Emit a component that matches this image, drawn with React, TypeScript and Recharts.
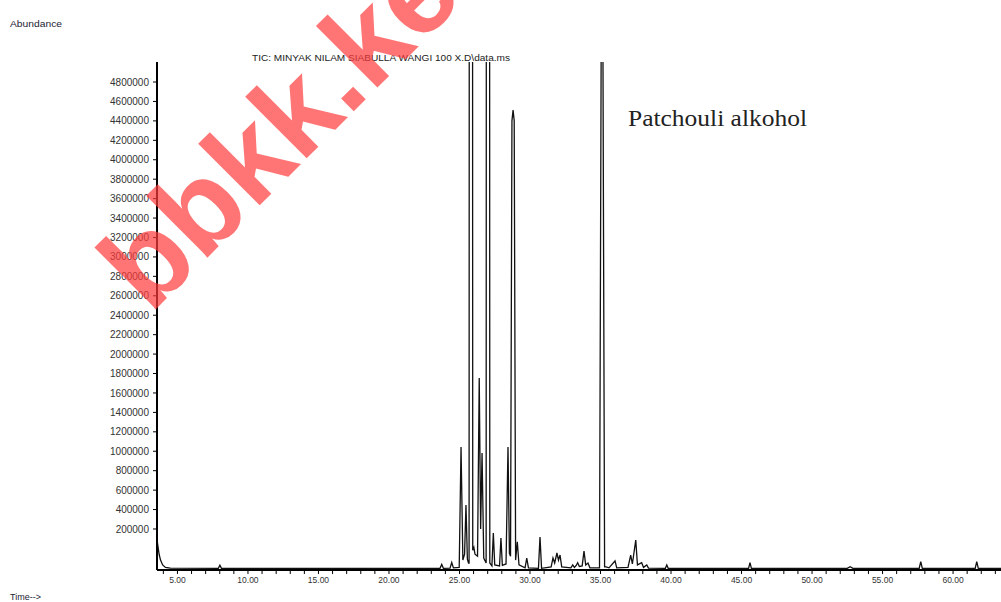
import { LineChart, Line, XAxis, YAxis } from 'recharts';

// retention time (min)
const times = [
  3.55, 3.62, 3.7, 3.8, 3.95, 4.15, 4.5,
  7.9, 8.01, 8.12,
  23.62, 23.74, 23.86, 24.33, 24.45, 24.57,
  24.98, 25.11, 25.24, 25.36, 25.46, 25.56, 25.64,
  25.68, 25.81, 25.94, 26.02, 26.1, 26.28, 26.4, 26.5, 26.6, 26.72,
  26.89, 27.02, 27.15, 27.3, 27.4, 27.5, 27.84, 27.94, 28.04,
  28.3, 28.44, 28.54, 28.62, 28.72, 28.8, 28.88, 28.98, 29.1, 29.22,
  29.65, 29.77, 29.89, 30.6, 30.71, 30.82,
  31.5, 31.63, 31.75, 31.91, 32.02, 32.13, 32.25,
  32.9, 33.03, 33.15, 33.28, 33.38, 33.5, 33.7, 33.83, 33.95, 34.11, 34.25,
  34.93, 35.11, 35.29, 35.4, 35.6, 36.03, 36.15,
  36.95, 37.14, 37.26, 37.5, 37.62, 37.92, 38.05, 38.28, 38.4,
  39.6, 39.7, 39.8, 45.5, 45.6, 45.7, 52.5, 52.7, 52.9,
  57.6, 57.71, 57.82, 61.57, 61.68, 61.79, 63.4,
];

// TIC abundance
const abundance = [
  90000, 20000, -60000, -120000, -170000, -195000, -203000,
  -205000, -172000, -205000,
  -205000, -165000, -205000, -203000, -145000, -200000,
  -195000, 1044000, -120000, -60000, 447000, -110000, -150000,
  -150000, 60000000, -20000, 10000, -60000, -80000, 1754000, 200000, 982000, -100000,
  -150000, 60000000, -150000, -180000, 159000, -170000, -180000, 107000, -175000,
  -160000, 1044000, -50000, -80000, 4400000, 4512000, 4400000, -120000, 69000, -170000,
  -200000, -100000, -200000, -205000, 118000, -205000,
  -190000, -98000, -150000, -47000, -120000, -68000, -190000,
  -200000, -170000, -195000, -175000, -147000, -185000, -180000, -26000, -170000, -150000, -200000,
  -200000, 8000000, -190000, -190000, -200000, -129000, -200000,
  -195000, -68000, -160000, 87000, -170000, -147000, -195000, -170000, -203000,
  -205000, -170000, -205000, -205000, -147000, -205000, -205000, -188000, -205000,
  -205000, -136000, -205000, -205000, -136000, -205000, -205000,
];

const yTicks = [
  200000, 400000, 600000, 800000, 1000000, 1200000, 1400000, 1600000,
  1800000, 2000000, 2200000, 2400000, 2600000, 2800000, 3000000, 3200000,
  3400000, 3600000, 3800000, 4000000, 4200000, 4400000, 4600000, 4800000,
];

const xTicks = [
  4, 5, 6, 7, 8, 9, 10, 11, 12, 13, 14, 15, 16, 17, 18, 19, 20, 21, 22, 23,
  24, 25, 26, 27, 28, 29, 30, 31, 32, 33, 34, 35, 36, 37, 38, 39, 40, 41, 42,
  43, 44, 45, 46, 47, 48, 49, 50, 51, 52, 53, 54, 55, 56, 57, 58, 59, 60, 61, 62, 63,
];

const data = times.map((t, i) => ({ t, v: abundance[i] }));

const tickFont = { fontFamily: 'Liberation Sans, Arial, sans-serif', fill: '#333' };

export default function App() {
  return (
    <div style={{ position: 'absolute', left: 0, top: 0, width: 1001, height: 602, background: '#fff', overflow: 'hidden' }}>
      <LineChart width={1001} height={602} data={data} margin={{ top: 62, right: 0, left: 0, bottom: 0 }}>
        <XAxis
          dataKey="t"
          type="number"
          domain={[3.55, 63.4]}
          allowDataOverflow
          ticks={xTicks}
          interval={0}
          tickFormatter={(t: number) => (t % 5 === 0 ? t.toFixed(2) : '')}
          height={32}
          tickSize={4}
          tickMargin={3}
          axisLine={{ stroke: '#000', strokeWidth: 2 }}
          tickLine={{ stroke: '#000' }}
          tick={{ ...tickFont, fontSize: 8.5 }}
        />
        <YAxis
          type="number"
          domain={[-222000, 5006000]}
          allowDataOverflow
          ticks={yTicks}
          interval={0}
          width={157}
          tickSize={4}
          tickMargin={4}
          axisLine={{ stroke: '#000', strokeWidth: 2 }}
          tickLine={{ stroke: '#000' }}
          tick={{ ...tickFont, fontSize: 10 }}
        />
        <Line
          dataKey="v"
          type="linear"
          stroke="#111"
          strokeWidth={1.3}
          dot={false}
          isAnimationActive={false}
        />
      </LineChart>
      <svg width={1001} height={602} style={{ position: 'absolute', left: 0, top: 0, pointerEvents: 'none' }}>
        <text x={10} y={27} fontFamily="Liberation Sans, Arial, sans-serif" fontSize={9} fill="#223" textLength={52} lengthAdjust="spacingAndGlyphs">
          Abundance
        </text>
        <text x={252} y={61} fontFamily="Liberation Sans, Arial, sans-serif" fontSize={9} fill="#222" textLength={258} lengthAdjust="spacingAndGlyphs">
          TIC: MINYAK NILAM SIABULLA WANGI 100 X.D\data.ms
        </text>
        <text x={628} y={126} fontFamily="Liberation Serif, Times New Roman, serif" fontSize={24} fill="#222" textLength={179} lengthAdjust="spacingAndGlyphs">
          Patchouli alkohol
        </text>
        <text x={10} y={600} fontFamily="Liberation Sans, Arial, sans-serif" fontSize={9} fill="#223">
          Time--&gt;
        </text>
        <text
          x={150}
          y={315}
          transform="rotate(-45 150 315)"
          fontFamily="Liberation Sans, Arial, sans-serif"
          fontWeight="bold"
          fontSize={120}
          fill="#ff3b3b"
          opacity={0.7}
        >
          bbkk.ke
        </text>
      </svg>
    </div>
  );
}
